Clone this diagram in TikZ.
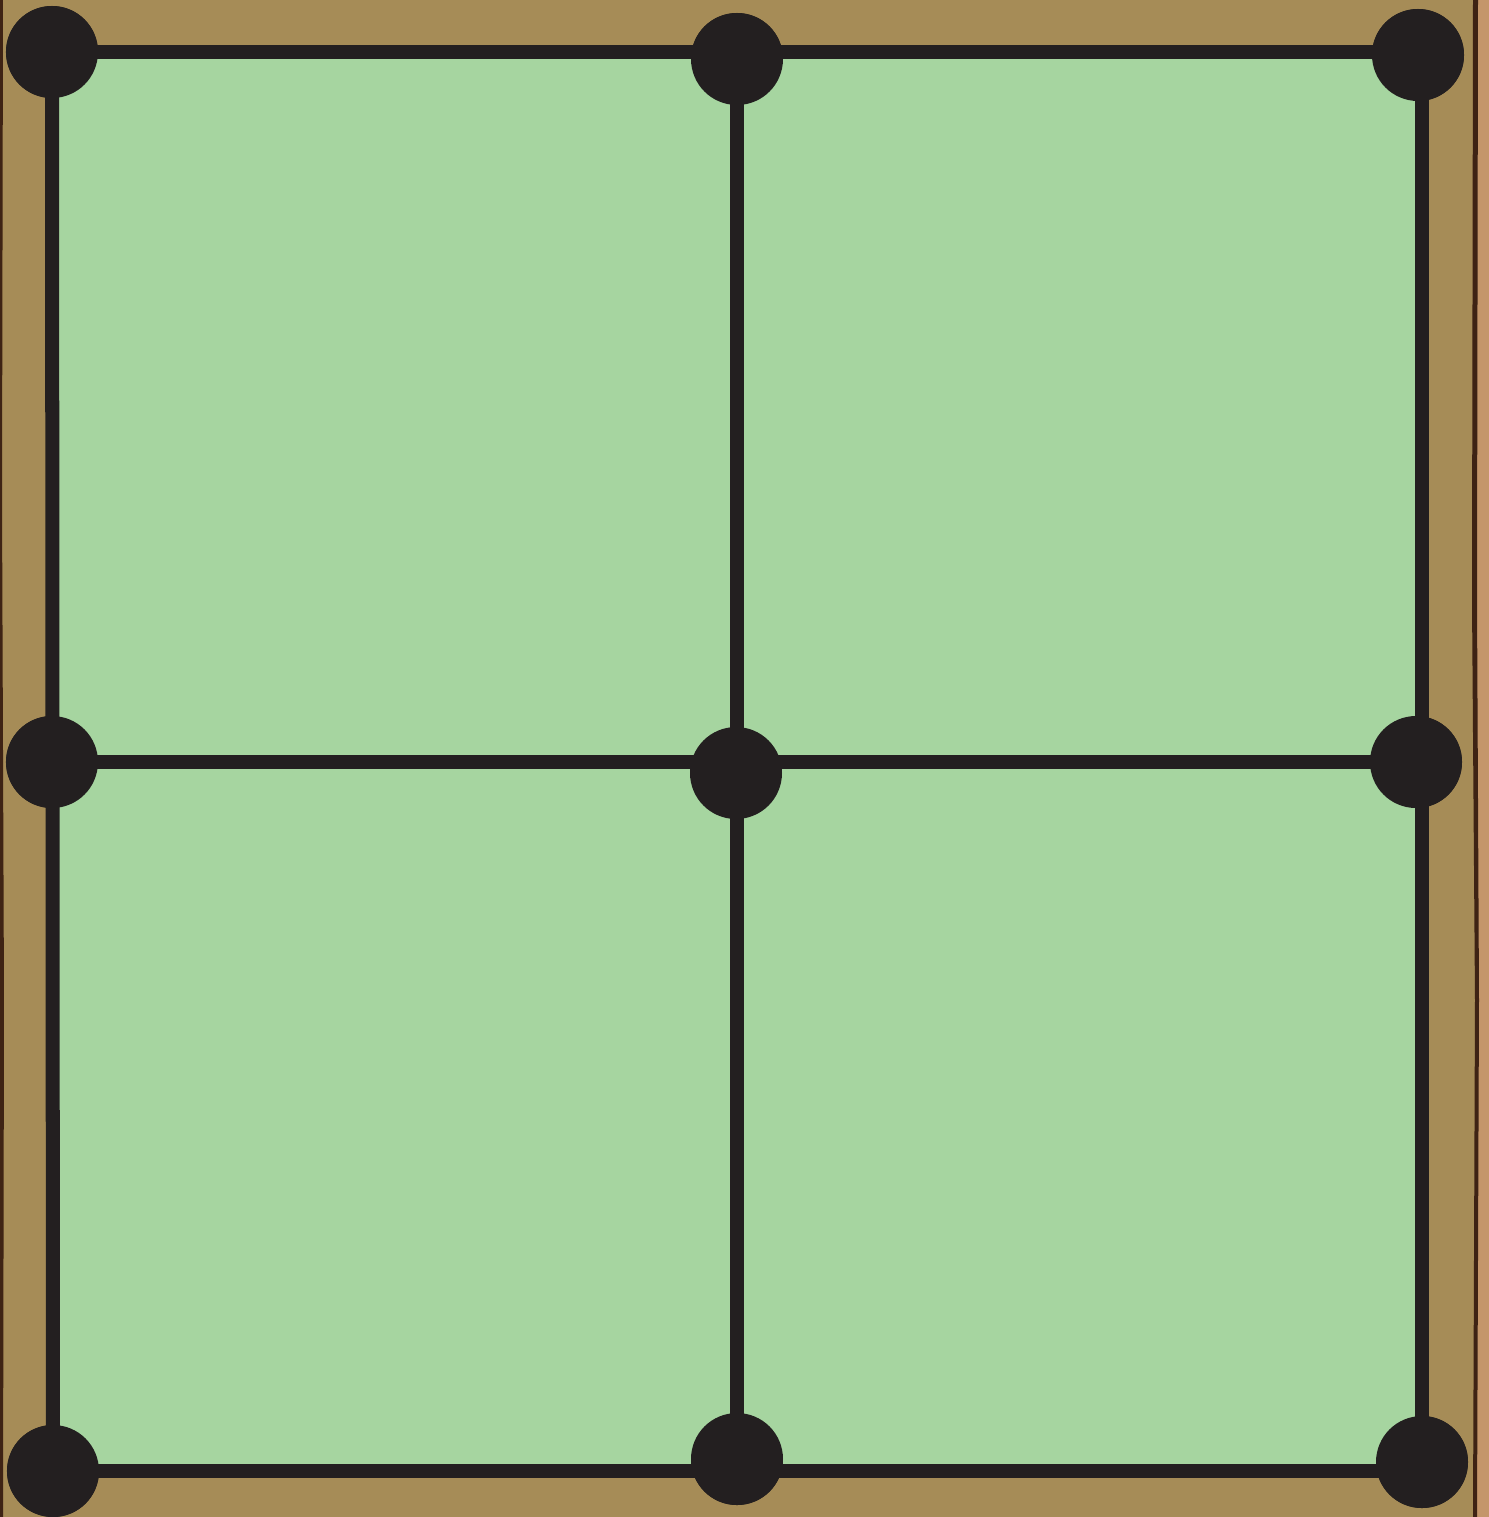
\documentclass[tikz,border=0pt]{standalone}
\usepackage{tikz}
\usetikzlibrary{positioning}
\definecolor{plotbrown}{RGB}{166,140,87}
\definecolor{plottan}{RGB}{196,150,106}
\definecolor{bark}{RGB}{62,35,20}
\definecolor{lawn}{RGB}{166,213,160}
\definecolor{inkblack}{RGB}{35,31,32}
\begin{document}
\begin{tikzpicture}[x=0.01cm, y=-0.01cm,
  post/.style={circle, fill=inkblack, inner sep=0pt, minimum size=0.92cm},
  rail/.style={draw=inkblack, line width=0.14cm, line cap=rect}]
\useasboundingbox (0,0) rectangle (1489,1517);
% ground
\fill[plotbrown] (0,0) rectangle (1489,1517);
\fill[plottan] (1477,0) rectangle (1489,1517);
\fill[bark] (1473,0) -- (1478,0) -- (1477,600) -- (1479,1000) -- (1477,1517) -- (1473,1517) -- (1475,1000) -- (1472,600) -- cycle;
\fill[bark] (0,0) -- (3,0) -- (2,500) -- (4,1000) -- (3,1517) -- (0,1517) -- cycle;
% posts
\node[post] (tl) at (52,52) {};
\node[post] (tm) at (737,59) {};
\node[post] (tr) at (1418,55) {};
\node[post] (ml) at (52,762) {};
\node[post] (mm) at (736,773) {};
\node[post] (mr) at (1416,762) {};
\node[post] (bl) at (53,1471) {};
\node[post] (bm) at (737,1459) {};
\node[post] (br) at (1422,1462) {};
\fill[lawn] (tl.center) rectangle (bl.center -| br.center);
% rails
\draw[rail] (tl.center) -- (tl.center -| br.center);
\draw[rail] (ml.center) -- (ml.center -| br.center);
\draw[rail] (bl.center) -- (bl.center -| br.center);
\draw[rail] (tl.center) -- (bl.center);
\draw[rail] (tm.center) -- (tm.center |- bl.center);
\draw[rail] (tl.center -| br.center) -- (bl.center -| br.center);
\foreach \p in {tl,tm,tr,ml,mm,mr,bl,bm,br}
  \fill[inkblack] (\p) circle (46);
\end{tikzpicture}
\end{document}
